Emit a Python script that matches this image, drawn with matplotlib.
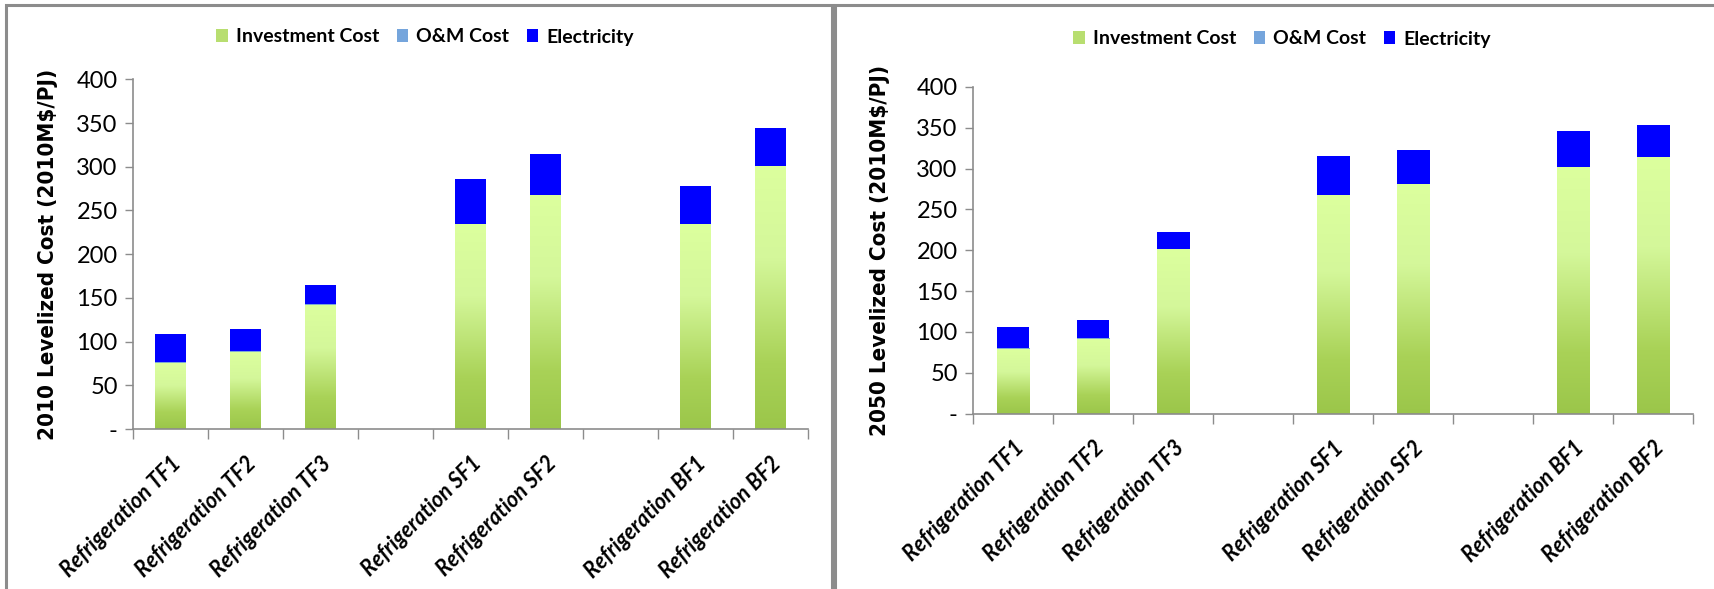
import numpy as np
import matplotlib
matplotlib.use("Agg")
import matplotlib.pyplot as plt
from matplotlib.patches import Rectangle, Patch
from matplotlib.colors import LinearSegmentedColormap

# categories (empty slots separate the three families)
categories = ["Refrigeration TF1", "Refrigeration TF2", "Refrigeration TF3", "",
              "Refrigeration SF1", "Refrigeration SF2", "",
              "Refrigeration BF1", "Refrigeration BF2"]

# 2010 levelized cost (2010M$/PJ)
invest_2010 = [75.6, 88.1, 142.2, 0, 234.2, 267.2, 0, 234.2, 300.8]
om_2010 = [0.5, 0.8, 0.5, 0, 0.5, 0.8, 0, 0.5, 0.5]
elec_2010 = [32.2, 25.0, 21.9, 0, 51.0, 46.5, 0, 43.7, 42.8]

# 2050 levelized cost (2010M$/PJ)
invest_2050 = [79.5, 91.5, 201.4, 0, 267.1, 280.9, 0, 301.6, 314.0]
om_2050 = [0.5, 0.8, 0.5, 0, 0.6, 0.5, 0, 0.5, 0.5]
elec_2050 = [25.7, 21.7, 20.2, 0, 47.7, 41.8, 0, 43.6, 38.6]

yticks = [0, 50, 100, 150, 200, 250, 300, 350, 400]
ytick_labels = ["-", "50", "100", "150", "200", "250", "300", "350", "400"]

W, H = 1715, 589
fig = plt.figure(figsize=(W / 100, H / 100), dpi=100)

green_cmap = LinearSegmentedColormap.from_list(
    "inv", [(0.0, "#9bc64a"), (0.25, "#a9d257"), (0.65, "#d4f79a"), (1.0, "#dcff9e")])
om_cmap = LinearSegmentedColormap.from_list("om", ["#4a7ebb", "#9dc3e6"])
GRAY = "#8c8c8c"
tick_font = "Lato"


def px_axes(x0, x1, ytop, ybot):
    return fig.add_axes([x0 / W, (H - ybot) / H, (x1 - x0) / W, (ybot - ytop) / H])


def gradient_bars(ax, bars, cmap):
    grad = np.linspace(0, 1, 256).reshape(-1, 1)
    for b in bars:
        h = b.get_height()
        if h <= 0:
            continue
        x, y, w = b.get_x(), b.get_y(), b.get_width()
        ax.imshow(grad, cmap=cmap, origin="lower", aspect="auto",
                  extent=(x, x + w, y, y + h), zorder=2, interpolation="bilinear")


def draw_panel(ax, inv, om, elec, ylabel, label_x):
    x = np.arange(len(categories))
    width = 0.41
    inv = np.array(inv)
    om = np.array(om)
    elec = np.array(elec)
    b1 = ax.bar(x, inv, width, color="none", edgecolor="none", zorder=2)
    b2 = ax.bar(x, om, width, bottom=inv, color="none", edgecolor="none", zorder=2)
    ax.bar(x, elec, width, bottom=inv + om, color="#0000ff", edgecolor="none", zorder=3)
    gradient_bars(ax, b1, green_cmap)
    gradient_bars(ax, b2, om_cmap)

    ax.set_xlim(-0.5, len(categories) - 0.5)
    ax.set_ylim(0, 400)
    ax.set_yticks(yticks)
    ax.set_yticklabels(ytick_labels, fontsize=17, fontfamily=tick_font)
    ax.set_xticks(np.arange(-0.5, len(categories), 1.0))
    ax.set_xticklabels([])
    ax.set_xticks(x, minor=True)
    ax.set_xticklabels(categories, minor=True, rotation=45, ha="right",
                       rotation_mode="anchor", fontsize=15.5, fontweight="bold",
                       fontstyle="italic", fontfamily=tick_font)
    ax.tick_params(axis="x", which="minor", length=0, pad=17)
    ax.tick_params(axis="x", which="major", length=7, color=GRAY, width=1)
    ax.tick_params(axis="y", length=6, color=GRAY, width=1, pad=5)
    for s in ["top", "right"]:
        ax.spines[s].set_visible(False)
    for s in ["left", "bottom"]:
        ax.spines[s].set_color(GRAY)
        ax.spines[s].set_linewidth(1.2)
    p = ax.get_position()
    fig.text(label_x / W, p.y0 + p.height / 2, ylabel, rotation=90, ha="center",
             va="center", fontsize=16, fontweight="bold", fontstretch="condensed",
             fontfamily="DejaVu Sans")


ax1 = px_axes(133, 808, 79.3, 429)
ax2 = px_axes(973, 1693.4, 86.8, 413.6)
draw_panel(ax1, invest_2010, om_2010, elec_2010, "2010 Levelized Cost (2010M$/PJ)", 48)
draw_panel(ax2, invest_2050, om_2050, elec_2050, "2050 Levelized Cost (2010M$/PJ)", 880)

handles = [Patch(facecolor="#b8de70", edgecolor="none", label="Investment Cost"),
           Patch(facecolor="#75a5dc", edgecolor="none", label="O&M Cost"),
           Patch(facecolor="#0000ff", edgecolor="none", label="Electricity")]
for cx, cy in [(425, 37), (1282, 39)]:
    fig.legend(handles=handles, loc="center", bbox_to_anchor=(cx / W, 1 - cy / H),
               ncol=3, frameon=False, prop={"family": tick_font, "weight": "bold", "size": 14},
               handlelength=0.6, handleheight=0.6, handletextpad=0.4, columnspacing=0.9)

# panel borders
fig.add_artist(Rectangle((6 / W, -0.05), (832 - 6) / W, 1.05 - 5 / H, transform=fig.transFigure,
                         fill=False, edgecolor=GRAY, linewidth=2.2))
fig.add_artist(Rectangle((835 / W, -0.05), 1.0, 1.05 - 5 / H, transform=fig.transFigure,
                         fill=False, edgecolor=GRAY, linewidth=2.2))

fig.savefig("out.png", dpi=100)
